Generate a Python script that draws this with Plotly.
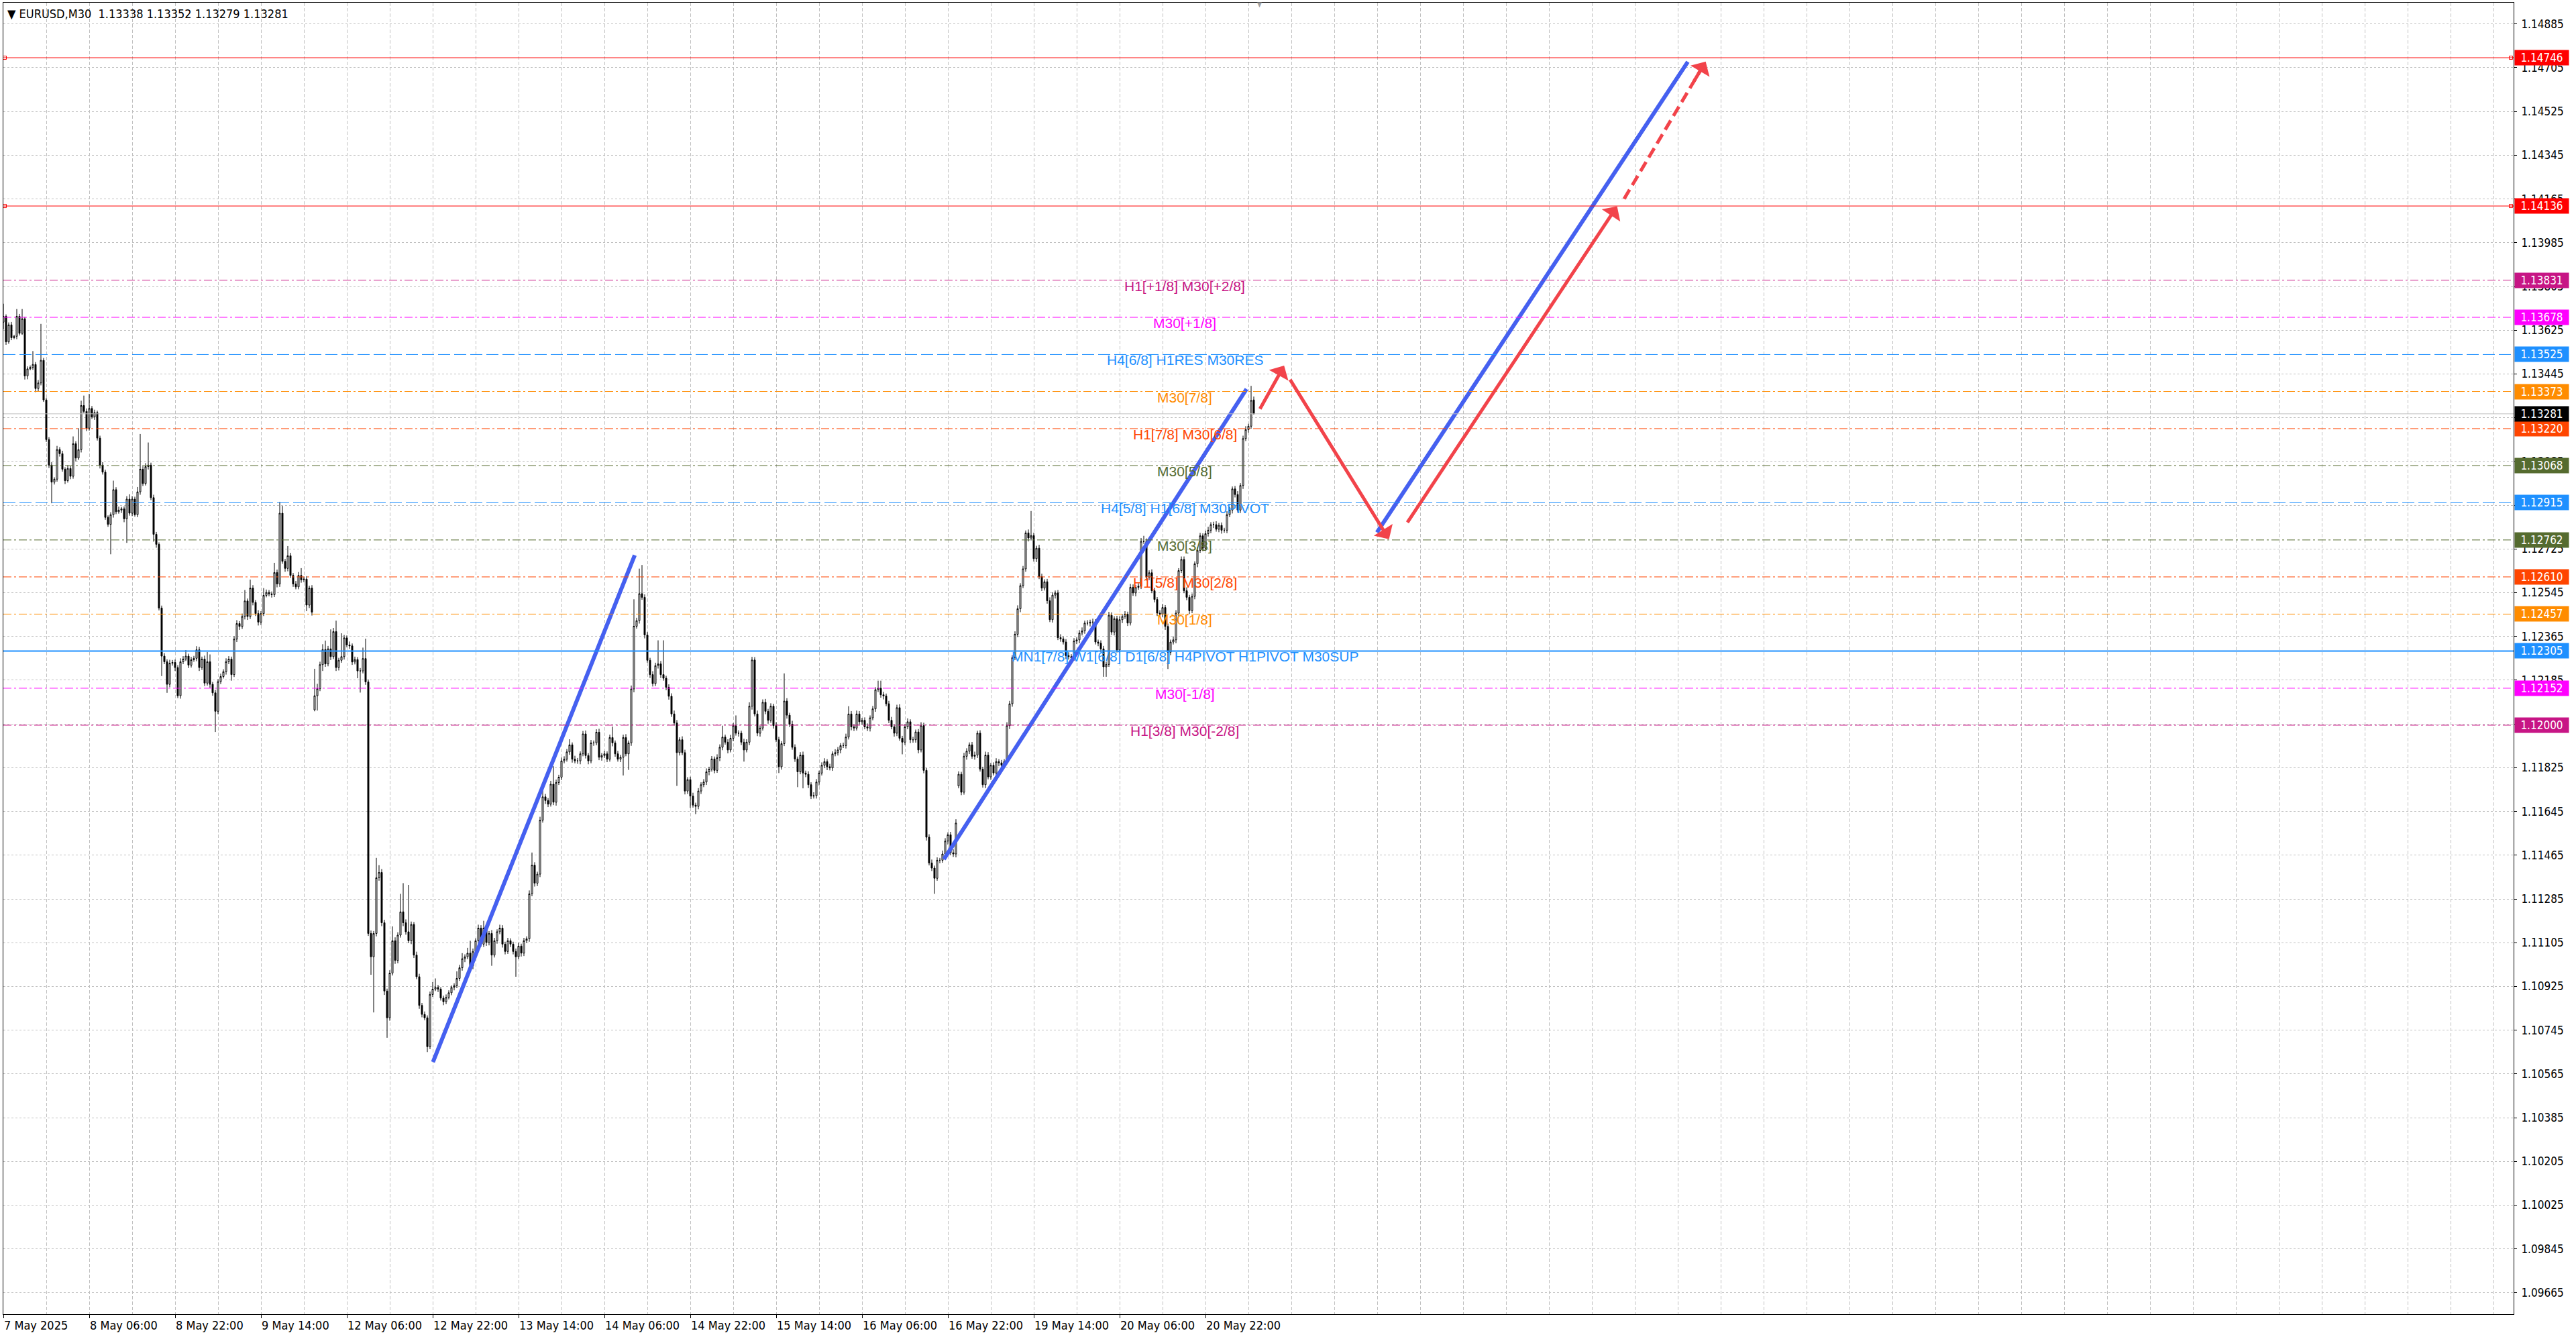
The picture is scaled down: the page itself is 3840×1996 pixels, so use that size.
import plotly.graph_objects as go

# EURUSD M30 chart with Murrey-style levels and drawn forecast arrows
# ===================================================================================================

# ---- candles (prices in points above 1.10000, one entry per M30 bar) ------------------------------
first_open_pts = 3658
gap_open_pts = {116: 2063, 356: 1750, 466: 3338}   # bars that open away from the previous close

close_pts = [
    3682, 3577, 3647, 3594, 3600, 3682, 3612, 3672, 3437, 3466,
    3472, 3484, 3385, 3408, 3501, 3338, 3175, 3070, 3000, 3012,
    3134, 3117, 3053, 3006, 3056, 3024, 3158, 3099, 3134, 3315,
    3291, 3222, 3303, 3268, 3286, 3181, 3070, 3041, 2855, 2826,
    2866, 2969, 2878, 2885, 2890, 2849, 2930, 2872, 2930, 2866,
    2960, 3053, 2994, 3064, 3070, 2936, 2785, 2744, 2482, 2284,
    2261, 2168, 2255, 2258, 2237, 2121, 2261, 2272, 2284, 2247,
    2269, 2275, 2310, 2237, 2272, 2173, 2261, 2168, 2133, 2057,
    2179, 2200, 2220, 2261, 2272, 2208, 2354, 2418, 2406, 2447,
    2511, 2447, 2564, 2505, 2459, 2424, 2459, 2534, 2546, 2540,
    2537, 2628, 2581, 2872, 2674, 2645, 2697, 2616, 2581, 2569,
    2616, 2598, 2601, 2494, 2564, 2465, 2121, 2150, 2249, 2311,
    2252, 2314, 2282, 2385, 2237, 2267, 2282, 2359, 2330, 2326,
    2260, 2270, 2223, 2223, 2274, 2178, 1143, 1047, 1143, 1372,
    1394, 1187, 906, 796, 980, 1113, 1032, 1136, 1232, 1187,
    1150, 1113, 1180, 1054, 965, 847, 810, 796, 677, 892,
    914, 921, 914, 877, 862, 880, 899, 921, 928, 958,
    1002, 1039, 1047, 1062, 1010, 1069, 1113, 1165, 1099, 1165,
    1106, 1143, 1054, 1113, 1150, 1165, 1099, 1069, 1113, 1099,
    1069, 1047, 1091, 1062, 1113, 1121, 1306, 1424, 1350, 1387,
    1609, 1705, 1690, 1675, 1757, 1683, 1764, 1786, 1853, 1860,
    1890, 1919, 1860, 1853, 1853, 1882, 1964, 1875, 1853, 1927,
    1927, 1971, 1868, 1875, 1882, 1860, 1949, 1927, 1882, 1860,
    1868, 1949, 1882, 1927, 2149, 2407, 2430, 2541, 2526, 2371,
    2267, 2208, 2171, 2245, 2252, 2208, 2193, 2156, 2119, 2046,
    2009, 1887, 1940, 1887, 1729, 1776, 1708, 1671, 1666, 1729,
    1755, 1766, 1808, 1819, 1861, 1814, 1866, 1909, 1951, 1930,
    1898, 1946, 1998, 1967, 1967, 1930, 1898, 1930, 2078, 2268,
    2046, 1967, 1988, 2094, 2057, 2020, 2078, 1998, 1940, 1829,
    1924, 2099, 2041, 2004, 1909, 1861, 1808, 1877, 1803, 1798,
    1755, 1708, 1710, 1766, 1803, 1835, 1850, 1829, 1824, 1882,
    1887, 1898, 1916, 1916, 1951, 2046, 1993, 1988, 2046, 2014,
    2020, 1993, 1988, 2030, 2067, 2146, 2152, 2125, 2120, 2088,
    2020, 1993, 1967, 2072, 1946, 1930, 1993, 2014, 1940, 1940,
    1972, 1898, 1998, 1814, 1539, 1433, 1412, 1370, 1444, 1444,
    1470, 1523, 1549, 1475, 1470, 1597, 1798, 1724, 1872, 1893,
    1919, 1872, 1877, 1967, 1819, 1755, 1877, 1787, 1835, 1803,
    1850, 1845, 1835, 1850, 1998, 2088, 2278, 2374, 2479, 2574,
    2643, 2791, 2770, 2780, 2685, 2728, 2611, 2564, 2590, 2512,
    2434, 2535, 2544, 2360, 2355, 2342, 2286, 2282, 2277, 2346,
    2351, 2379, 2388, 2420, 2420, 2424, 2424, 2342, 2337, 2314,
    2240, 2250, 2452, 2383, 2438, 2309, 2434, 2447, 2457, 2420,
    2567, 2544, 2567, 2572, 2756, 2756, 2609, 2627, 2553, 2517,
    2461, 2457, 2484, 2406, 2300, 2342, 2351, 2461, 2636, 2682,
    2553, 2526, 2471, 2530, 2664, 2719, 2779, 2728, 2788, 2802,
    2825, 2825, 2806, 2822, 2802, 2802, 2866, 2885, 2972, 2949,
    2885, 2986, 3179, 3216, 3230, 3336, 3281,
]

upper_wick_pts = [
    52, 8, 10, 12, 6, 30, 10, 40, 8, 10,
    8, 55, 10, 12, 150, 10, 8, 10, 12, 8,
    15, 10, 12, 8, 14, 10, 30, 10, 88, 20,
    41, 12, 60, 10, 12, 8, 10, 12, 10, 8,
    10, 37, 10, 14, 8, 10, 12, 20, 12, 10,
    20, 145, 12, 14, 93, 10, 12, 10, 8, 10,
    12, 10, 14, 10, 12, 10, 14, 12, 25, 10,
    12, 10, 15, 12, 10, 14, 40, 30, 10, 12,
    10, 12, 10, 14, 12, 10, 12, 14, 10, 12,
    45, 10, 35, 12, 10, 14, 10, 30, 12, 10,
    10, 40, 12, 47, 30, 10, 40, 12, 10, 12,
    14, 30, 10, 12, 10, 12, 111, 20, 12, 22,
    37, 12, 80, 15, 45, 10, 96, 12, 10, 14,
    10, 12, 10, 12, 45, 82, 10, 12, 10, 82,
    30, 14, 12, 10, 12, 59, 14, 12, 74, 118,
    14, 193, 12, 10, 14, 12, 10, 12, 10, 12,
    29, 37, 10, 8, 10, 12, 10, 8, 10, 29,
    12, 23, 10, 22, 51, 12, 10, 14, 12, 30,
    12, 10, 14, 12, 10, 14, 12, 10, 12, 10,
    10, 12, 14, 10, 12, 10, 14, 52, 12, 10,
    14, 44, 12, 10, 14, 74, 12, 10, 14, 12,
    12, 23, 10, 14, 12, 10, 12, 14, 10, 12,
    10, 12, 14, 10, 12, 10, 12, 45, 10, 12,
    10, 12, 14, 10, 14, 111, 12, 103, 118, 12,
    12, 10, 14, 12, 97, 12, 141, 10, 12, 12,
    14, 12, 10, 14, 12, 10, 12, 14, 10, 12,
    10, 12, 14, 10, 12, 10, 14, 12, 47, 10,
    12, 14, 10, 42, 12, 10, 14, 12, 16, 13,
    12, 14, 10, 12, 14, 10, 12, 10, 14, 12,
    10, 114, 12, 10, 14, 12, 10, 12, 14, 10,
    12, 10, 14, 12, 10, 12, 14, 10, 12, 10,
    14, 12, 10, 12, 14, 32, 12, 10, 14, 12,
    10, 12, 14, 10, 12, 10, 31, 31, 12, 10,
    12, 14, 10, 12, 14, 10, 12, 14, 10, 12,
    10, 12, 14, 12, 10, 12, 14, 10, 12, 10,
    14, 12, 10, 12, 14, 16, 12, 10, 14, 12,
    10, 12, 14, 10, 12, 10, 14, 12, 10, 12,
    14, 10, 12, 10, 14, 12, 10, 12, 14, 10,
    12, 10, 14, 101, 12, 10, 14, 12, 10, 12,
    14, 12, 10, 12, 14, 10, 12, 14, 10, 12,
    10, 12, 14, 10, 12, 10, 14, 12, 10, 12,
    12, 10, 14, 12, 10, 12, 14, 10, 12, 10,
    14, 12, 10, 12, 14, 23, 12, 10, 14, 12,
    10, 12, 14, 10, 12, 10, 14, 12, 10, 12,
    12, 14, 10, 12, 10, 14, 12, 10, 12, 14,
    10, 12, 14, 10, 12, 10, 14, 12, 10, 12,
    14, 10, 12, 14, 10, 60, 14,
]

lower_wick_pts = [
    29, 12, 8, 10, 6, 12, 9, 6, 15, 14,
    6, 10, 15, 12, 10, 8, 10, 12, 87, 10,
    10, 12, 10, 14, 8, 12, 10, 14, 8, 12,
    8, 12, 10, 8, 12, 10, 14, 10, 10, 10,
    123, 12, 10, 8, 12, 14, 99, 10, 12, 8,
    10, 12, 10, 8, 12, 10, 30, 14, 10, 82,
    10, 35, 12, 10, 14, 10, 12, 10, 8, 12,
    10, 8, 12, 14, 10, 12, 10, 14, 12, 85,
    12, 10, 8, 12, 10, 25, 10, 12, 14, 10,
    12, 14, 10, 12, 10, 14, 12, 10, 8, 10,
    12, 10, 14, 12, 10, 14, 12, 10, 12, 10,
    10, 12, 10, 25, 12, 14, 6, 61, 10, 26,
    12, 10, 14, 10, 14, 12, 10, 12, 10, 12,
    12, 10, 30, 89, 10, 12, 10, 74, 229, 12,
    12, 14, 16, 82, 12, 10, 14, 12, 10, 14,
    12, 10, 14, 12, 10, 14, 12, 10, 22, 10,
    10, 8, 12, 10, 14, 10, 8, 10, 12, 10,
    10, 12, 14, 10, 12, 14, 10, 12, 10, 12,
    14, 12, 44, 10, 12, 10, 14, 12, 10, 12,
    12, 82, 10, 14, 12, 10, 12, 10, 14, 12,
    12, 10, 14, 12, 10, 12, 14, 10, 12, 10,
    10, 12, 14, 10, 12, 14, 10, 12, 14, 10,
    12, 10, 12, 14, 10, 12, 10, 14, 12, 10,
    12, 75, 10, 66, 12, 14, 10, 12, 10, 14,
    10, 14, 12, 10, 12, 14, 10, 12, 14, 12,
    10, 137, 12, 10, 14, 12, 48, 10, 32, 12,
    12, 10, 12, 14, 10, 12, 10, 14, 12, 10,
    14, 10, 12, 10, 14, 12, 48, 10, 12, 14,
    10, 12, 14, 10, 12, 14, 10, 12, 10, 26,
    12, 10, 14, 12, 10, 12, 63, 10, 63, 12,
    14, 12, 10, 12, 14, 10, 12, 14, 10, 12,
    10, 12, 14, 10, 12, 10, 14, 12, 10, 12,
    12, 10, 12, 14, 10, 12, 10, 12, 14, 10,
    12, 10, 14, 12, 10, 50, 12, 10, 14, 12,
    12, 14, 10, 12, 14, 10, 12, 64, 10, 12,
    10, 12, 14, 10, 12, 14, 10, 12, 10, 14,
    12, 10, 14, 12, 10, 12, 14, 10, 12, 10,
    12, 14, 10, 12, 10, 14, 12, 10, 12, 14,
    10, 12, 14, 10, 12, 14, 10, 12, 10, 12,
    10, 12, 14, 10, 12, 10, 14, 12, 10, 12,
    12, 14, 10, 12, 10, 14, 12, 10, 12, 14,
    41, 41, 10, 12, 14, 10, 12, 14, 10, 12,
    10, 12, 14, 10, 12, 10, 14, 12, 10, 12,
    12, 10, 12, 14, 69, 12, 10, 14, 12, 10,
    10, 12, 14, 10, 12, 14, 10, 12, 10, 12,
    12, 14, 10, 12, 14, 10, 12, 10, 14, 12,
    10, 12, 14, 10, 12, 10, 2,
]

# ---- time axis labels (one label every 32 bars) -------------------------------------------------
time_labels = [
    "7 May 2025", "8 May 06:00", "8 May 22:00", "9 May 14:00", "12 May 06:00",
    "12 May 22:00", "13 May 14:00", "14 May 06:00", "14 May 22:00", "15 May 14:00",
    "16 May 06:00", "16 May 22:00", "19 May 14:00", "20 May 06:00", "20 May 22:00",
]

# ---- price scale labels ------------------------------------------------------------------------
price_ticks = [
    "1.14885", "1.14705", "1.14525", "1.14345", "1.14165", "1.13985", "1.13805", "1.13625",
    "1.13445", "1.13265", "1.13085", "1.12905", "1.12725", "1.12545", "1.12365", "1.12185",
    "1.12005", "1.11825", "1.11645", "1.11465", "1.11285", "1.11105", "1.10925", "1.10745",
    "1.10565", "1.10385", "1.10205", "1.10025", "1.09845", "1.09665",
]

# ---- horizontal levels -------------------------------------------------------------------------
level_prices = [1.13831, 1.13678, 1.13525, 1.13373, 1.13220, 1.13068, 1.12915,
                1.12762, 1.12610, 1.12457, 1.12305, 1.12152, 1.12000]
level_names = [
    "H1[+1/8] M30[+2/8]", "M30[+1/8]", "H4[6/8] H1RES M30RES", "M30[7/8]",
    "H1[7/8] M30[6/8]", "M30[5/8]", "H4[5/8] H1[6/8] M30PIVOT", "M30[3/8]",
    "H1[5/8] M30[2/8]", "M30[1/8]", "MN1[7/8] W1[6/8] D1[6/8] H4PIVOT H1PIVOT M30SUP",
    "M30[-1/8]", "H1[3/8] M30[-2/8]",
]
target_prices = [1.14746, 1.14136]
last_price = 1.13281
symbol_title = "EURUSD,M30"
last_bar_ohlc = ["1.13338", "1.13352", "1.13279", "1.13281"]

# ---- hand drawn forecast (bar index, price) ----------------------------------------------------
trend_x = [[160.1, 235.3], [350.5, 463.3], [511.9, 627.75]]
trend_y = [[1.10614, 1.12699], [1.11448, 1.13383], [1.12793, 1.14729]]
arrow_tail_x = [468.1, 479.3, 523.0]
arrow_tail_y = [1.13297, 1.13426, 1.12830]
arrow_tip_x = [477.3, 516.4, 601.4]
arrow_tip_y = [1.13479, 1.12765, 1.14135]
dashed_x = [604.0, 634.4]
dashed_y = [1.14165, 1.14730]

# ---- styles ------------------------------------------------------------------------------------
VIOLET, MAGENTA, BLUE = "#C71585", "#FF00FF", "#1E90FF"
ORANGE, ORANGERED, OLIVE = "#FF8C00", "#FF4500", "#556B2F"
DASHDOT = "12px,4px,3px,4px"
LONGDASH = "18px,6px"
LEVEL_COLORS = [VIOLET, MAGENTA, BLUE, ORANGE, ORANGERED, OLIVE, BLUE,
                OLIVE, ORANGERED, ORANGE, BLUE, MAGENTA, VIOLET]
LEVEL_DASHES = [DASHDOT, DASHDOT, LONGDASH, DASHDOT, DASHDOT, DASHDOT, LONGDASH,
                DASHDOT, DASHDOT, DASHDOT, "solid", DASHDOT, DASHDOT]
TREND_BLUE = "#4560F0"
ARROW_RED = "#F2434A"
GRID = "#C0C0C0"
AXIS_FONT = "DejaVu Sans Condensed, DejaVu Sans, Tahoma, sans-serif"
LABEL_FONT = "Liberation Sans, Arial, sans-serif"

X_LEFT, X_RIGHT = 0, 935.5
Y_BOTTOM, Y_TOP = 1.095766, 1.149725


def to_price(pts):
    return round(1.1 + pts / 100000.0, 5)


# Build open/high/low/close lists from the closes and the wick sizes
def build_ohlc():
    o_list, h_list, l_list, c_list = [], [], [], []
    for i, c in enumerate(close_pts):
        if i == 0:
            o = first_open_pts
        elif i in gap_open_pts:
            o = gap_open_pts[i]
        else:
            o = close_pts[i - 1]
        o_list.append(to_price(o))
        c_list.append(to_price(c))
        h_list.append(to_price(max(o, c) + upper_wick_pts[i]))
        l_list.append(to_price(min(o, c) - lower_wick_pts[i]))
    return o_list, h_list, l_list, c_list


assert len(close_pts) == len(upper_wick_pts) == len(lower_wick_pts)
opens, highs, lows, closes = build_ohlc()
bars = list(range(len(closes)))

fig = go.Figure()

# candles
fig.add_trace(go.Candlestick(
    x=bars, open=opens, high=highs, low=lows, close=closes,
    increasing=dict(line=dict(color="black", width=1), fillcolor="white"),
    decreasing=dict(line=dict(color="black", width=1), fillcolor="black"),
    whiskerwidth=0, hoverinfo="skip", showlegend=False,
))

# horizontal levels
for price, color, dash in zip(level_prices, LEVEL_COLORS, LEVEL_DASHES):
    fig.add_shape(type="line", xref="paper", x0=0, x1=1, y0=price, y1=price,
                  line=dict(color=color, width=2 if dash == "solid" else 1, dash=dash))
for price in target_prices:
    fig.add_shape(type="line", xref="paper", x0=0, x1=1, y0=price, y1=price,
                  line=dict(color="#FF0000", width=1))
fig.add_shape(type="line", xref="paper", x0=0, x1=1, y0=last_price, y1=last_price,
              line=dict(color="#C0C0C0", width=1))

# small handles at both ends of the target lines
for price in target_prices:
    fig.add_trace(go.Scatter(
        x=[X_LEFT + 0.5, X_RIGHT - 1.0], y=[price, price], mode="markers",
        marker=dict(symbol="square-open", size=5, color="#FF0000", line=dict(width=1)),
        hoverinfo="skip", showlegend=False, cliponaxis=False,
    ))

# level names in the middle of the chart
for price, name, color in zip(level_prices, level_names, LEVEL_COLORS):
    fig.add_annotation(x=440.25, y=price, text=name, showarrow=False,
                       xanchor="center", yanchor="top", yshift=5,
                       font=dict(family=LABEL_FONT, size=21, color=color))

# price boxes on the right scale
box_prices = target_prices + level_prices + [last_price]
box_colors = ["#FF0000", "#FF0000"] + LEVEL_COLORS + ["#000000"]
for price, color in zip(box_prices, box_colors):
    fig.add_annotation(xref="paper", x=1, y=price, xanchor="left", yanchor="middle", xshift=1,
                       text="%.5f" % price, showarrow=False, bgcolor=color,
                       width=74, height=16, borderpad=3, align="center",
                       font=dict(family=AXIS_FONT, size=17, color="white"))

# forecast drawings
for xs, ys in zip(trend_x, trend_y):
    fig.add_trace(go.Scatter(x=xs, y=ys, mode="lines",
                             line=dict(color=TREND_BLUE, width=6),
                             hoverinfo="skip", showlegend=False))
for tx, ty, hx, hy in zip(arrow_tail_x, arrow_tail_y, arrow_tip_x, arrow_tip_y):
    fig.add_annotation(x=hx, y=hy, ax=tx, ay=ty, xref="x", yref="y", axref="x", ayref="y",
                       text="", showarrow=True, arrowhead=1, arrowsize=1.1,
                       arrowwidth=5, arrowcolor=ARROW_RED)
fig.add_trace(go.Scatter(x=dashed_x, y=dashed_y, mode="lines",
                         line=dict(color=ARROW_RED, width=5, dash="16px,8px"),
                         hoverinfo="skip", showlegend=False))
fig.add_annotation(x=dashed_x[1], y=dashed_y[1],
                   ax=dashed_x[1] - 0.15 * (dashed_x[1] - dashed_x[0]),
                   ay=dashed_y[1] - 0.15 * (dashed_y[1] - dashed_y[0]),
                   xref="x", yref="y", axref="x", ayref="y",
                   text="", showarrow=True, arrowhead=1, arrowsize=1.1,
                   arrowwidth=5, arrowcolor=ARROW_RED)

# symbol header and chart shift marker
fig.add_annotation(xref="paper", yref="paper", x=0, y=1, xanchor="left", yanchor="top",
                   xshift=4, yshift=-4, showarrow=False, align="left",
                   text="\u25bc " + symbol_title + "\u00a0\u00a0" + " ".join(last_bar_ohlc),
                   font=dict(family=AXIS_FONT, size=18, color="black"))
fig.add_annotation(x=len(closes) + 1, yref="paper", y=1, yanchor="top", yshift=5,
                   text="\u25bc", showarrow=False, font=dict(size=10, color="#A0A0A0"))

# ---- layout ------------------------------------------------------------------------------------
label_bars = [32 * k for k in range(len(time_labels))]
grid_bars = [b for b in range(16, 936, 16) if b not in label_bars]

fig.update_layout(
    width=3840, height=1996,
    margin=dict(l=5, r=93, t=4, b=37),
    paper_bgcolor="white", plot_bgcolor="white",
    showlegend=False,
    font=dict(family=AXIS_FONT, size=17, color="black"),
    xaxis=dict(
        range=[X_LEFT, X_RIGHT], tickmode="array",
        tickvals=label_bars, ticktext=time_labels,
        ticks="outside", ticklen=5, tickcolor="black", ticklabelposition="outside right",
        showgrid=True, gridcolor=GRID, gridwidth=1, griddash="5px,3px",
        minor=dict(tickvals=grid_bars, showgrid=True, gridcolor=GRID,
                   griddash="5px,3px", ticks=""),
        showline=True, linecolor="black", linewidth=1, mirror=True, zeroline=False,
        rangeslider=dict(visible=False), tickfont=dict(size=18),
    ),
    yaxis=dict(
        side="right", range=[Y_BOTTOM, Y_TOP], tickmode="array",
        tickvals=[float(t) for t in price_ticks], ticktext=price_ticks,
        ticks="outside", ticklen=4, tickcolor="black", ticklabelstandoff=3,
        showgrid=True, gridcolor=GRID, gridwidth=1, griddash="3px,3px",
        showline=True, linecolor="black", linewidth=1, mirror=True, zeroline=False,
        tickfont=dict(size=17),
    ),
)

# the page body margin would shift the whole chart, so drop it
fig.write_html("out.html", config={"displayModeBar": False},
               post_script="document.body.style.margin = '0px';")
